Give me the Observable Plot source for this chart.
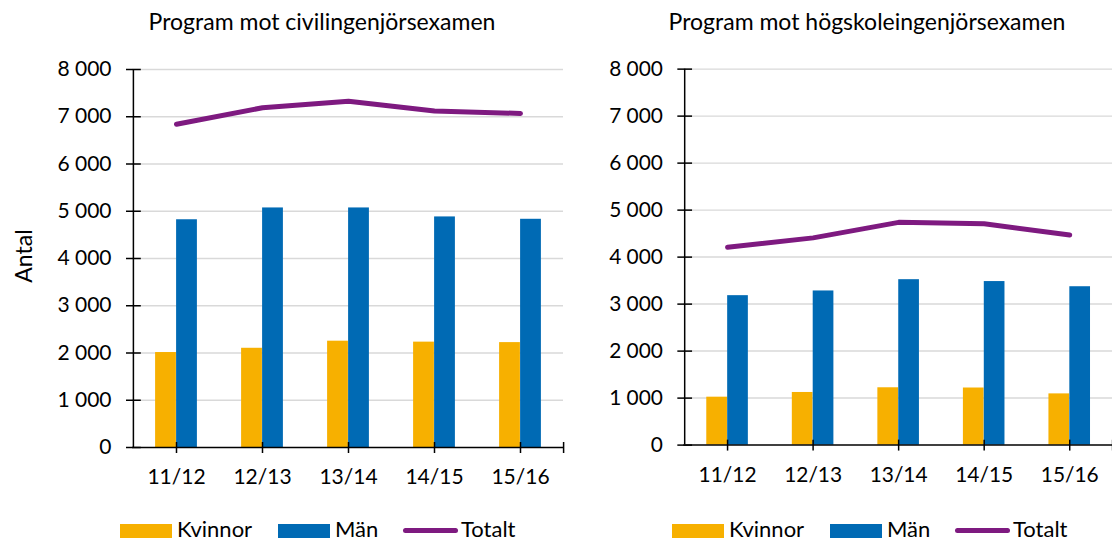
<!DOCTYPE html>
<html>
<head>
<meta charset="utf-8">
<script src="https://cdn.jsdelivr.net/npm/d3@7"></script>
<script src="https://cdn.jsdelivr.net/npm/@observablehq/plot@0.6"></script>
<style>
  html, body { margin: 0; padding: 0; background: #fff; }
  body { width: 1112px; height: 540px; overflow: hidden; position: relative; font-family: Lato, "Open Sans", sans-serif; color: #000; }
  .panel { position: absolute; top: 0; }
  .title { position: absolute; font-size: 23px; line-height: 26px; white-space: nowrap; transform: translateX(-50%); top: 8px; }
  .ylabel { position: absolute; font-size: 23px; left: 23px; top: 256px; transform: translate(-50%, -50%) rotate(-90deg); white-space: nowrap; }
  .legend { position: absolute; top: 519px; height: 20px; font-size: 22px; line-height: 20px; white-space: nowrap; }
  .legend .item { position: absolute; top: 0; height: 20px; display: flex; align-items: center; }
  .sw { display: inline-block; width: 52px; height: 14px; margin-right: 5px; margin-top: 4px; }
  .ln { display: inline-block; width: 55px; height: 5px; border-radius: 3px; margin-right: 3px; margin-top: 2px; }
</style>
</head>
<body>
<script>
// ---- data ----
const years = ["11/12", "12/13", "13/14", "14/15", "15/16"];
const civKvinnor = [2010, 2100, 2250, 2230, 2220];
const civMan = [4820, 5070, 5070, 4880, 4830];
const civTotalt = [6840, 7190, 7330, 7120, 7070];
const hogKvinnor = [1020, 1120, 1220, 1215, 1090];
const hogMan = [3180, 3280, 3520, 3480, 3370];
const hogTotalt = [4210, 4410, 4740, 4710, 4470];
const yTicks = [0, 1000, 2000, 3000, 4000, 5000, 6000, 7000, 8000];
const seriesNames = ["Kvinnor", "Män", "Totalt"];
const titles = ["Program mot civilingenjörsexamen", "Program mot högskoleingenjörsexamen"];

// ---- styles ----
const colKvinnor = "#F7B000";
const colMan = "#006AB4";
const colTotalt = "#7E1A80";
const fmt = d => d3.format(",")(d).replace(/,/g, " ");

function makePanel(kv, man, tot) {
  const rows = years.map((y, i) => ({year: y, kvinnor: kv[i], man: man[i], totalt: tot[i]}));
  const W = 563, ML = 132, MT = 69, MB = 53;
  const band = (W - ML) / years.length;
  const half = band / 2;
  const barW = 21;
  return Plot.plot({
    width: W,
    height: 500,
    marginLeft: ML,
    marginRight: 0,
    marginTop: MT,
    marginBottom: MB,
    style: {fontFamily: "Lato, 'Open Sans', sans-serif", fontSize: "21px", color: "#000", background: "transparent", overflow: "visible"},
    x: {domain: years, padding: 0, tickSize: 0, tickPadding: 22, label: null},
    y: {domain: [0, 8000], ticks: yTicks, tickFormat: fmt, tickSize: 0, tickPadding: 21, label: null},
    marks: [
      Plot.ruleY(yTicks.slice(1), {stroke: "#d9d9d9", strokeWidth: 1.5}),
      Plot.barY(rows, {x: "year", y: "kvinnor", fill: colKvinnor, insetLeft: half - barW, insetRight: half}),
      Plot.barY(rows, {x: "year", y: "man", fill: colMan, insetLeft: half, insetRight: half - barW}),
      // axes lines and crossing ticks
      Plot.ruleY([0], {stroke: "#000", strokeWidth: 1.5}),
      Plot.ruleX([years[0]], {dx: -half, stroke: "#000", strokeWidth: 1.5}),
      Plot.tickY(yTicks, {y: d => d, x: () => years[0], insetLeft: -7, insetRight: band - 8, stroke: "#000", strokeWidth: 1.5}),
      Plot.ruleX(years, {x: d => d, y1: () => 0, y2: () => 0, insetTop: -5, insetBottom: -6, stroke: "#000", strokeWidth: 1.5}),
      Plot.ruleX([years[years.length - 1]], {dx: half, y1: () => 0, y2: () => 0, insetTop: -5, insetBottom: -6, stroke: "#000", strokeWidth: 1.5}),
      Plot.line(rows, {x: "year", y: "totalt", stroke: colTotalt, strokeWidth: 5, strokeLinecap: "round", strokeLinejoin: "round"})
    ]
  });
}

function addLegend(left) {
  const lg = document.createElement("div");
  lg.className = "legend";
  lg.style.left = left + "px";
  const offs = [0, 158, 283];
  seriesNames.forEach((name, i) => {
    const it = document.createElement("div");
    it.className = "item";
    it.style.left = offs[i] + "px";
    const sw = document.createElement("span");
    if (i < 2) { sw.className = "sw"; sw.style.background = i === 0 ? colKvinnor : colMan; }
    else { sw.className = "ln"; sw.style.background = colTotalt; }
    it.appendChild(sw);
    const t = document.createElement("span");
    t.textContent = name;
    it.appendChild(t);
    lg.appendChild(it);
  });
  document.body.appendChild(lg);
}

const p1 = document.createElement("div"); p1.className = "panel"; p1.style.left = "0px";
p1.appendChild(makePanel(civKvinnor, civMan, civTotalt));
document.body.appendChild(p1);
const p2 = document.createElement("div"); p2.className = "panel"; p2.style.left = "552px";
p2.appendChild(makePanel(hogKvinnor, hogMan, hogTotalt));
document.body.appendChild(p2);

[[322, titles[0]], [867, titles[1]]].forEach(([cx, t]) => {
  const d = document.createElement("div"); d.className = "title"; d.style.left = cx + "px"; d.textContent = t;
  document.body.appendChild(d);
});
const yl = document.createElement("div"); yl.className = "ylabel"; yl.textContent = "Antal";
document.body.appendChild(yl);
addLegend(120);
addLegend(672);
</script>
</body>
</html>
